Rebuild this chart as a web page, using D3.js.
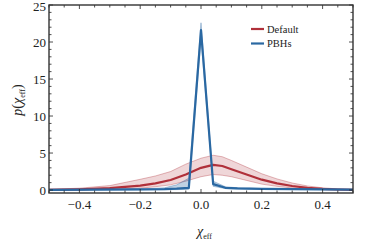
<!DOCTYPE html>
<html><head><meta charset="utf-8">
<script src="https://cdn.jsdelivr.net/npm/d3@7"></script>
<style>body{margin:0;background:#fff}svg{display:block}</style>
</head><body>
<svg id="c" width="366" height="244"></svg>
<script>
// Data
const defX    = [-0.5,-0.4,-0.3,-0.2,-0.15,-0.1,-0.05,0,0.04,0.07,0.1,0.15,0.2,0.25,0.3,0.35,0.4,0.45,0.5];
const defMean = [0.03,0.1,0.25,0.6,0.9,1.35,2.1,3.0,3.4,3.25,2.8,2.1,1.4,0.9,0.55,0.3,0.15,0.07,0.03];
const defHi   = [0.1,0.25,0.6,1.45,1.9,2.5,3.5,4.3,4.7,4.5,4.0,3.1,2.2,1.5,0.95,0.55,0.3,0.15,0.08];
const defLo   = [0.0,0.03,0.08,0.25,0.45,0.7,1.2,1.8,2.1,2.0,1.8,1.3,0.8,0.5,0.28,0.14,0.06,0.02,0.01];
const pbhX    = [-0.5,-0.2,-0.12,-0.08,-0.04,0,0.04,0.08,0.12,0.2,0.5];
const pbhMean = [0.02,0.08,0.12,0.18,0.3,21.6,0.8,0.3,0.22,0.15,0.05];
const pbhHi   = [0.04,0.15,0.3,0.7,1.6,22.6,1.2,0.45,0.3,0.2,0.07];
const pbhLo   = [0.0,0.03,0.05,0.06,0.1,20.5,0.5,0.2,0.15,0.1,0.03];
const xTicks  = [-0.4,-0.2,0,0.2,0.4];
const yTicks  = [0,5,10,15,20,25];
const legendLabels = ["Default","PBHs"];

const red = "#b0303a", blue = "#2a68a2";
const svg = d3.select("#c");
const L=49, R=353, T=5, B=193;
const x = d3.scaleLinear().domain([-0.5,0.5]).range([L,R]);
const y = d3.scaleLinear().domain([-0.4,25]).range([B,T]);
const serif = "'Liberation Serif','DejaVu Serif',serif";

svg.append("clipPath").attr("id","clip").append("rect").attr("x",L).attr("y",T).attr("width",R-L).attr("height",B-T);
const g = svg.append("g").attr("clip-path","url(#clip)");

function draw(xs, m, hi, lo, col, fillOp){
  const idx = d3.range(xs.length);
  g.append("path").attr("d", d3.area().x(i=>x(xs[i])).y0(i=>y(lo[i])).y1(i=>y(hi[i]))(idx))
    .attr("fill", col).attr("fill-opacity", fillOp);
  [hi, lo].forEach(arr=>g.append("path").attr("d", d3.line().x(i=>x(xs[i])).y(i=>y(arr[i]))(idx))
    .attr("fill","none").attr("stroke",col).attr("stroke-opacity",0.35).attr("stroke-width",1));
  g.append("path").attr("d", d3.line().x(i=>x(xs[i])).y(i=>y(m[i]))(idx))
    .attr("fill","none").attr("stroke",col).attr("stroke-width",2.2).attr("stroke-linejoin","round");
}
draw(defX, defMean, defHi, defLo, red, 0.2);
draw(pbhX, pbhMean, pbhHi, pbhLo, blue, 0.3);

// frame & ticks
const ax = svg.append("g").attr("stroke","#222");
const minorX = d3.range(-0.5,0.5001,0.05);
minorX.forEach(v=>{
  const major = xTicks.some(t=>Math.abs(t-v)<1e-6) || Math.abs(v)<1e-6;
  const len = major?4:2.5;
  ax.append("line").attr("x1",x(v)).attr("x2",x(v)).attr("y1",B).attr("y2",B-len).attr("stroke-width",0.8);
  ax.append("line").attr("x1",x(v)).attr("x2",x(v)).attr("y1",T).attr("y2",T+len).attr("stroke-width",0.8);
});
d3.range(0,26,1).forEach(v=>{
  const len = v%5===0?4:2.5;
  ax.append("line").attr("y1",y(v)).attr("y2",y(v)).attr("x1",L).attr("x2",L+len).attr("stroke-width",0.8);
  ax.append("line").attr("y1",y(v)).attr("y2",y(v)).attr("x1",R).attr("x2",R-len).attr("stroke-width",0.8);
});
svg.append("rect").attr("x",L).attr("y",T).attr("width",R-L).attr("height",B-T)
  .attr("fill","none").attr("stroke","#333").attr("stroke-width",1.4);

// tick labels
xTicks.forEach(v=>svg.append("text").attr("x",x(v)).attr("y",209).attr("text-anchor","middle")
  .attr("font-family",serif).attr("font-size",13).attr("fill","#222")
  .text(v===0?"0.0":(v<0?"\u2212":"")+Math.abs(v).toFixed(1)));
yTicks.forEach(v=>svg.append("text").attr("x",L-3).attr("y",Math.max(y(v)+4.5,11)).attr("text-anchor","end")
  .attr("font-family",serif).attr("font-size",13).attr("fill","#222").text(v));

// axis labels
const xl = svg.append("text").attr("x",197).attr("y",236).attr("font-family",serif).attr("font-size",14).attr("fill","#222");
xl.append("tspan").attr("font-style","italic").text("\u03c7");
xl.append("tspan").attr("font-size",8).attr("dy",3).text("eff");
const yl = svg.append("text").attr("transform","translate(22,100) rotate(-90)").attr("text-anchor","middle")
  .attr("font-family",serif).attr("font-size",14).attr("fill","#222");
yl.append("tspan").attr("font-style","italic").text("p");
yl.append("tspan").text("(");
yl.append("tspan").attr("font-style","italic").text("\u03c7");
yl.append("tspan").attr("font-size",8).attr("dy",3).text("eff");
yl.append("tspan").attr("dy",-3).text(")");

// legend
[red, blue].forEach((c,i)=>{
  const yy = 29 + i*14.5;
  svg.append("line").attr("x1",251).attr("x2",264).attr("y1",yy).attr("y2",yy).attr("stroke",c).attr("stroke-width",2.2);
  svg.append("text").attr("x",267).attr("y",yy+3.5).attr("font-family",serif).attr("font-size",10.5)
    .attr("fill","#222").text(legendLabels[i]);
});
</script>
</body></html>
